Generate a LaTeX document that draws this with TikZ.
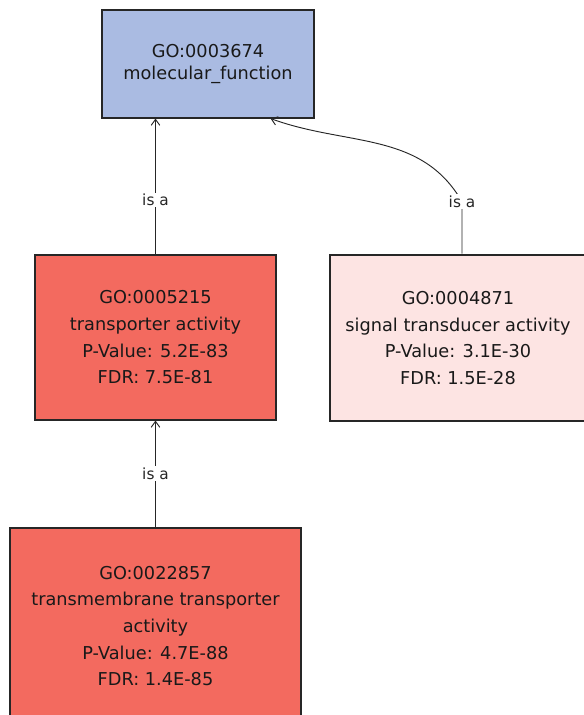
\documentclass[tikz,border=0pt]{standalone}
\usepackage{fontspec}
\setmainfont{DejaVu Sans}
\usetikzlibrary{arrows.meta}
\definecolor{goblue}{HTML}{AABBE2}
\definecolor{gored}{HTML}{F36A5F}
\definecolor{gopink}{HTML}{FDE4E3}

\begin{document}
\begin{tikzpicture}[x=0.75pt, y=-0.75pt,
  >={Straight Barb[length=4.5pt,width=6.5pt]},
  term/.style={draw=black!85, line width=0.8pt, inner sep=2pt, align=center,
    text=black!90, font=\fontsize{13.3}{20}\selectfont},
  hit/.style={term, line width=2pt},
  rel/.style={fill=white, inner sep=1pt, text=black!85,
    font=\fontsize{11.5}{13}\selectfont},
  isa/.style={->, line width=0.7pt, black!85}]
\useasboundingbox (0,0) rectangle (584,715);
\clip (0,0) rectangle (584,715);
% GO terms
\node[term, fill=goblue, minimum width=159pt, minimum height=81pt,
  font=\fontsize{13.3}{17}\selectfont] (mf) at (208,64)
  {GO:0003674\\ molecular\_function};
\node[term, fill=gored, minimum width=180.75pt, minimum height=123.75pt] (tr) at (155.5,337.5)
  {GO:0005215\\ transporter activity\\ P-Value: 5.2E-83\\ FDR: 7.5E-81};
\node[hit, fill=gopink, minimum width=192pt, minimum height=124.5pt] (sig) at (458,338)
  {GO:0004871\\ signal transducer activity\\ P-Value: 3.1E-30\\ FDR: 1.5E-28};
\node[hit, fill=gored, minimum width=218.25pt, minimum height=147pt] (tm) at (155.5,626)
  {GO:0022857\\ transmembrane transporter\\ activity\\ P-Value: 4.7E-88\\ FDR: 1.4E-85};
% is-a edges
\draw[isa] (tr.north) -- node[rel, pos=0.4] (l1) {is a} (tr.north |- mf.south);
\draw[isa] (tm.north) -- node[rel] (l2) {is a} (tr.south);
\draw[isa] ([xshift=3pt]sig.north) -- ++(0,-52) node[rel] (l3) {is a}
  to[out=120, in=-20] ([xshift=-33pt]mf.south east);
\end{tikzpicture}
\end{document}
